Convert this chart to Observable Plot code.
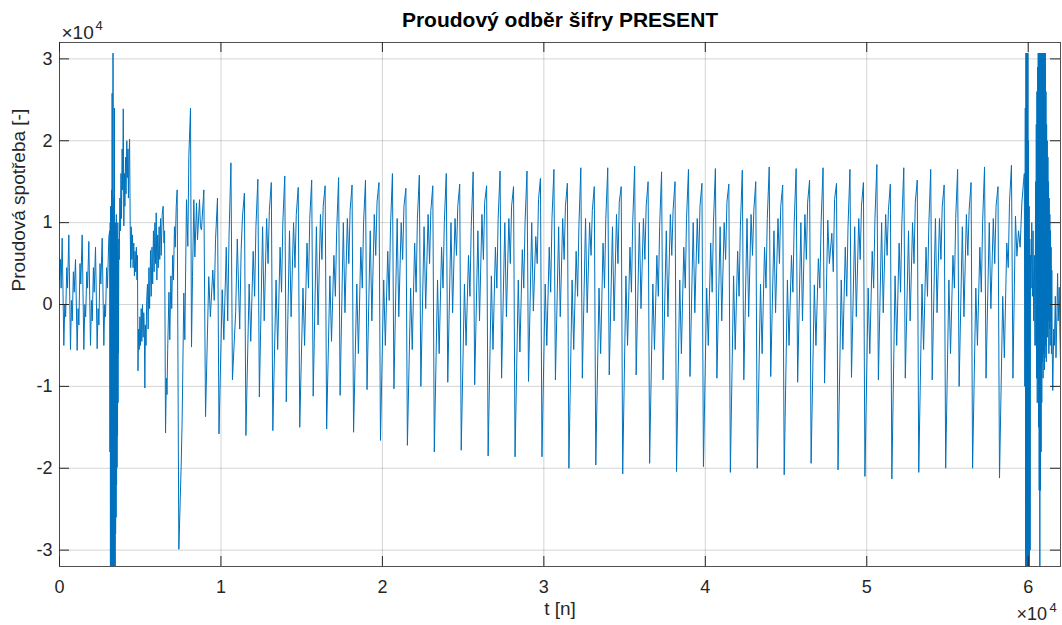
<!DOCTYPE html>
<html>
<head>
<meta charset="utf-8">
<script src="https://cdn.jsdelivr.net/npm/d3@7"></script>
<script src="https://cdn.jsdelivr.net/npm/@observablehq/plot@0.6"></script>
<style>
  html, body { margin: 0; padding: 0; background: #fff; }
  #chart svg { display: block; }
</style>
</head>
<body>
<div id="chart"></div>
<script>
// ---- Text ----
const titleText = "Proudový odběr šifry PRESENT";
const xLabel = "t [n]";
const yLabel = "Proudová spotřeba [-]";
const expBase = "×10";
const expPower = "4";

// ---- Ticks (t in samples, current in units of 1e4) ----
const xTicks = [0, 10000, 20000, 30000, 40000, 50000, 60000];
const yTicks = [-3, -2, -1, 0, 1, 2, 3];

// ---- Signal: values (current in units of 1e4) ----
// idle phase before the cipher starts: [t, value]
const onsetSegment = [
  [0,0.30],[60,0.55],[100,0.20],[165,0.81],[268,-0.50],[330,0.00],[380,-0.15],[450,0.45],[500,0.20],
  [578,0.85],[681,-0.55],[740,0.05],[790,-0.20],[860,0.40],[910,0.15],[991,0.55],[1094,-0.56],
  [1150,-0.05],[1200,-0.25],[1270,0.50],[1320,0.25],[1404,0.85],[1507,-0.55],[1570,0.00],[1620,-0.15],
  [1690,0.40],[1740,0.20],[1817,0.77],[1920,-0.50],[1980,0.05],[2030,-0.20],[2100,0.45],[2150,0.15],
  [2230,0.70],[2333,-0.54],[2390,-0.05],[2440,-0.25],[2510,0.50],[2560,0.25],[2643,0.81],[2746,-0.50],
  [2800,0.00],[2850,-0.15],[2920,0.45],[2970,0.20],[3056,0.83]
];

// start-up burst and key loading: [t, value]
const transientSegment = [
  [3110,0.9],[3125,-1.8],[3140,1.0],[3155,-3.3],[3170,1.2],[3185,-3.3],[3200,1.1],[3215,-3.3],[3230,1.4],
  [3245,-3.3],[3260,2.58],[3275,-3.3],[3290,1.2],[3305,-3.3],[3315,3.07],[3330,-3.3],[3345,1.0],[3360,-3.3],
  [3375,1.3],[3390,-3.3],[3400,2.4],[3415,-3.3],[3430,0.9],[3445,-3.3],[3460,1.0],[3475,-2.8],[3490,0.8],
  [3505,-2.6],[3520,1.1],[3535,-2.2],[3550,0.9],[3565,-1.99],[3580,0.7],[3595,-1.6],[3610,1.0],[3625,-1.2],
  [3640,0.6],[3655,-0.6],[3675,0.8],
  [3700,0.55],[3740,1.3],[3770,0.9],[3810,1.6],[3840,1.05],[3880,1.9],[3910,1.4],[3950,2.39],[3985,0.96],
  [4020,1.6],[4050,1.2],[4090,1.8],[4120,1.35],[4170,2.0],[4200,1.55],[4240,1.9],[4270,1.3],[4300,1.75],
  [4340,2.02],[4380,0.95],[4410,0.45],
  [4440,0.95],[4480,0.55],[4520,0.85],[4560,0.45],[4600,0.75],[4640,0.35],[4680,0.65],[4720,0.4],[4760,0.7],
  [4800,0.3],[4830,0.6],[4860,-0.81],
  [4900,-0.3],[4940,-0.55],[4980,-0.15],[5020,-0.5],[5060,-0.05],[5100,-0.45],[5140,0.0],[5180,-0.4],
  [5220,-0.1],[5255,-0.3],[5286,-1.02],[5320,-0.25],[5360,-0.5],[5400,0.05],
  [5450,0.25],[5490,-0.3],[5540,0.45],[5580,-0.05],[5640,0.66],[5680,0.1],[5730,0.7],[5770,0.25],[5820,0.9],
  [5860,0.4],[5910,1.0],[5950,0.5],[5990,1.12],[6030,0.3],[6080,0.85],[6120,0.45],[6170,0.95],[6210,0.55],
  [6260,1.05],[6300,0.6],[6360,1.1],[6420,1.2],[6470,0.75],[6510,0.9],
  [6567,-1.57],[6620,-0.9],[6660,-1.1],[6700,-0.55],[6780,0.15],[6830,-0.43],[6900,0.35],[6950,-0.05],
  [7010,0.6],[7060,0.3],[7120,0.95],[7170,0.7],[7230,1.2],[7288,1.40],
  [7391,-2.99],[7535,-1.98],[7597,-1.41],[7700,0.14],[7762,-0.43],[7866,1.28],[7949,0.71],[8011,1.81],
  [8114,2.40],[8176,-0.52],[8238,0.34],[8321,1.28],[8383,0.58],[8486,1.24],[8548,0.79],[8672,1.28],
  [8730,0.95],[8795,0.91],[8940,1.40]
];

// round cycles: time of each cycle's minimum (samples)
const cycleMinT = [
  9045, 9879, 10712, 11546, 12379, 13213, 14046, 14880, 15713, 16547,
  17380, 18214, 19047, 19881, 20714, 21548, 22381, 23215, 24048, 24882,
  25715, 26549, 27382, 28216, 29049, 29883, 30716, 31550, 32383, 33217,
  34050, 34884, 35717, 36551, 37384, 38218, 39051, 39885, 40718, 41552,
  42385, 43219, 44052, 44886, 45719, 46553, 47386, 48220, 49053, 49887,
  50720, 51554, 52387, 53221, 54054, 54888, 55721, 56555, 57388, 58222
];
// sample offsets of the vertices inside a cycle
const cycleOffsets = [0, 200, 300, 450, 540, 620, 740];
// per cycle: [minimum, rise, dip, rise, dip, rise, peak before the next drop]
const cycleRows = [
  [-1.37,0.34,-0.15,0.42,0.05,0.79,1.30],
  [-1.58,0.18,-0.43,0.70,-0.20,0.83,1.73],
  [-0.92,-0.09,0.80,-0.30,0.67,1.07,1.36],
  [-1.60,0.25,-0.45,0.65,0.10,0.95,1.53],
  [-1.13,0.95,-0.20,1.05,0.50,1.15,1.49],
  [-1.54,0.30,-0.55,0.70,0.15,1.00,1.57],
  [-1.19,0.90,-0.15,1.00,0.45,1.10,1.43],
  [-1.50,0.20,-0.50,0.75,0.20,1.05,1.52],
  [-1.12,0.95,-0.25,1.10,0.55,1.20,1.45],
  [-1.52,0.35,-0.45,0.60,0.10,0.90,1.55],
  [-1.11,1.00,-0.10,1.05,0.50,1.15,1.46],
  [-1.56,0.25,-0.60,0.70,0.20,1.00,1.52],
  [-1.04,0.90,-0.20,1.10,0.60,1.25,1.49],
  [-1.66,0.30,-0.50,0.65,0.05,0.95,1.60],
  [-1.03,1.05,-0.15,1.00,0.55,1.20,1.42],
  [-1.72,0.20,-0.55,0.75,0.15,1.05,1.58],
  [-1.00,0.95,-0.05,1.10,0.50,1.15,1.45],
  [-1.80,0.30,-0.60,0.70,0.20,1.00,1.60],
  [-0.95,1.00,-0.10,1.05,0.60,1.20,1.47],
  [-1.78,0.25,-0.50,0.60,0.10,0.95,1.62],
  [-0.98,0.90,-0.20,1.10,0.55,1.25,1.45],
  [-1.85,0.35,-0.55,0.70,0.20,1.05,1.63],
  [-0.90,1.00,-0.15,1.05,0.50,1.20,1.44],
  [-1.86,0.30,-0.58,0.67,0.20,1.00,1.63],
  [-0.94,1.00,-0.08,0.83,0.50,1.28,1.54],
  [-1.86,0.25,-0.50,0.70,0.15,1.05,1.65],
  [-0.92,0.95,-0.15,1.05,0.55,1.20,1.48],
  [-2.00,0.30,-0.55,0.65,0.10,0.95,1.67],
  [-0.90,1.05,-0.10,1.00,0.60,1.15,1.44],
  [-1.96,0.20,-0.60,0.75,0.20,1.05,1.67],
  [-0.86,0.95,-0.20,1.10,0.50,1.25,1.44],
  [-2.07,0.35,-0.50,0.70,0.15,1.00,1.69],
  [-0.86,1.00,-0.05,1.05,0.55,1.20,1.50],
  [-1.94,0.25,-0.55,0.60,0.10,0.95,1.62],
  [-0.92,0.90,-0.15,1.10,0.60,1.15,1.50],
  [-2.04,0.30,-0.60,0.70,0.20,1.05,1.65],
  [-0.88,1.00,-0.10,1.05,0.50,1.20,1.48],
  [-1.98,0.20,-0.50,0.75,0.15,1.00,1.66],
  [-0.90,0.95,-0.20,1.00,0.55,1.25,1.47],
  [-2.05,0.35,-0.55,0.65,0.10,0.95,1.64],
  [-0.92,1.05,-0.15,1.10,0.60,1.15,1.50],
  [-2.00,0.25,-0.60,0.70,0.20,1.05,1.68],
  [-0.88,0.90,-0.10,1.05,0.50,1.20,1.46],
  [-2.08,0.30,-0.50,0.60,0.15,1.00,1.66],
  [-0.95,1.00,-0.20,1.10,0.55,1.25,1.52],
  [-1.94,0.24,-0.50,0.56,0.20,1.00,1.67],
  [-0.96,1.03,0.50,0.87,0.40,1.28,1.48],
  [-2.02,0.30,-0.55,0.70,0.10,0.95,1.65],
  [-0.89,0.95,-0.15,1.05,0.55,1.20,1.49],
  [-2.10,0.20,-0.60,0.65,0.20,1.05,1.71],
  [-0.92,1.00,-0.10,1.10,0.60,1.15,1.47],
  [-2.13,0.35,-0.50,0.75,0.15,1.00,1.67],
  [-0.90,0.90,-0.20,1.00,0.50,1.25,1.52],
  [-2.05,0.25,-0.55,0.70,0.10,0.95,1.65],
  [-0.92,1.05,-0.10,1.05,0.55,1.20,1.46],
  [-2.00,0.30,-0.60,0.60,0.20,1.05,1.65],
  [-1.00,0.95,-0.15,1.10,0.60,1.15,1.49],
  [-2.00,0.20,-0.50,0.70,0.15,1.00,1.68],
  [-0.90,1.00,-0.05,1.05,0.50,1.20,1.44],
  [-2.12,0.10,-0.65,0.75,0.45,1.25,1.70]
];

// end of encryption and final burst: [t, value]
const finaleSegment = [
  [59055,-0.90],[59210,1.08],[59300,0.59],[59400,0.90],[59500,0.70],[59610,1.25],[59710,1.50],
  [59760,1.6],[59790,-1.0],[59820,2.4],[59840,-3.3],[59860,3.07],[59880,-3.3],[59900,3.07],[59920,-3.3],
  [59940,3.07],[59960,-3.3],[59980,3.07],[60000,-3.3],[60020,2.0],[60040,-3.3],[60060,1.2],[60080,-3.3],
  [60100,0.8],[60120,-3.0],[60140,0.6],
  [60180,0.2],[60220,1.0],[60260,0.1],[60300,0.9],[60340,-0.2],[60380,0.6],[60420,-0.5]
];
// saturated block: upper and lower turning points of the oscillation
const blockTop = [
  [60460,1.5],[60500,2.2],[60540,2.6],[60580,2.9],[60620,3.07],[60660,3.07],[60700,3.07],[60740,3.07],
  [60780,3.07],[60820,3.07],[60860,3.07],[60900,3.07],[60940,3.07],[60980,3.07],[61020,3.07],[61060,3.07],
  [61100,2.6],[61140,2.2],[61180,2.0],[61220,1.8],[61260,1.5],[61300,1.3],[61340,1.1],[61380,0.9],
  [61420,0.7],[61460,0.42]
];
const blockBottom = [
  [60480,-0.5],[60520,-0.9],[60560,-1.2],[60600,-0.9],[60640,-1.5],[60680,-2.27],[60720,-3.3],[60760,-2.27],
  [60800,-1.8],[60840,-1.2],[60880,-0.7],[60920,-0.9],[60960,-0.6],[61000,-0.8],[61040,-0.65],[61080,-0.5],
  [61120,-0.7],[61160,-0.3],[61200,-0.4],[61240,-0.2],[61280,-0.6],[61320,-0.3],[61360,-0.5],[61400,-0.2],
  [61440,-0.6],[61480,-0.4]
];
const tailSegment = [
  [61520,-1.05],[61580,-0.3],[61620,-0.5],[61680,0.1],[61720,-0.65],[61780,-0.1],[61820,0.38],
  [61860,-0.2],[61920,0.21],[61960,-0.3],[62000,-0.7]
];

// ---- Assemble the table ----
const series = [];
const addPairs = pairs => pairs.forEach(([t, v]) => series.push({t, v}));
addPairs(onsetSegment);
addPairs(transientSegment);
cycleRows.forEach((row, k) => row.forEach((v, j) => series.push({t: cycleMinT[k] + cycleOffsets[j], v})));
addPairs(finaleSegment);
addPairs(blockTop);
addPairs(blockBottom);
addPairs(tailSegment);
series.sort((a, b) => a.t - b.t);

// ---- Styling ----
const font = "'Liberation Sans', Arial, Helvetica, sans-serif";
const ink = "#262626";
const lineColor = "#0072BD";
const fmtX = d => String(d / 1e4);
const fmtY = d => (d < 0 ? "-" : "") + Math.abs(d);

const W = 1062, H = 625, mT = 42, mR = 2, mB = 59, mL = 59;
const frameW = W - mL - mR, frameH = H - mT - mB;
const tickLen = 10;

const chart = Plot.plot({
  width: W, height: H,
  marginTop: mT, marginRight: mR, marginBottom: mB, marginLeft: mL,
  style: {fontFamily: font, fontSize: "18px", color: ink, background: "#fff", overflow: "visible"},
  x: {domain: [0, 62000]},
  y: {domain: [-3.2, 3.2]},
  marks: [
    Plot.gridX(xTicks, {stroke: ink, strokeOpacity: 0.2, strokeWidth: 1}),
    Plot.gridY(yTicks, {stroke: ink, strokeOpacity: 0.2, strokeWidth: 1}),
    Plot.line(series, {x: "t", y: "v", stroke: lineColor, strokeWidth: 1, clip: true}),
    // inward ticks on all four sides
    Plot.ruleX(xTicks, {x: d => d, insetTop: frameH - tickLen, stroke: ink}),
    Plot.ruleX(xTicks, {x: d => d, insetBottom: frameH - tickLen, stroke: ink}),
    Plot.ruleY(yTicks, {y: d => d, insetRight: frameW - tickLen, stroke: ink}),
    Plot.ruleY(yTicks, {y: d => d, insetLeft: frameW - tickLen, stroke: ink}),
    Plot.frame({stroke: ink, strokeOpacity: 0.8}),
    Plot.axisX(xTicks, {anchor: "bottom", tickSize: 0, tickPadding: 14, tickFormat: fmtX, label: null, fill: ink, fontSize: 18}),
    Plot.axisY(yTicks, {anchor: "left", tickSize: 0, tickPadding: 7, tickFormat: fmtY, label: null, fill: ink, fontSize: 18}),
    Plot.text([titleText], {frameAnchor: "top", lineAnchor: "middle", dy: -22, fontWeight: "bold", fontSize: 21, fill: "#000"}),
    Plot.text([xLabel], {frameAnchor: "bottom", lineAnchor: "middle", dy: 42, fontSize: 19, fill: ink}),
    Plot.text([yLabel], {frameAnchor: "left", lineAnchor: "middle", dx: -41, dy: -13, rotate: -90, fontSize: 19, fill: ink}),
    Plot.text([expBase], {frameAnchor: "top-left", lineAnchor: "middle", textAnchor: "start", dx: 2, dy: -10, fontSize: 19, fill: ink}),
    Plot.text([expPower], {frameAnchor: "top-left", lineAnchor: "middle", textAnchor: "start", dx: 36, dy: -17, fontSize: 13, fill: ink}),
    Plot.text([expBase], {frameAnchor: "bottom-right", lineAnchor: "middle", textAnchor: "start", dx: -44, dy: 48, fontSize: 18, fill: ink}),
    Plot.text([expPower], {frameAnchor: "bottom-right", lineAnchor: "middle", textAnchor: "start", dx: -11, dy: 41, fontSize: 13, fill: ink})
  ]
});
document.getElementById("chart").appendChild(chart);
</script>
</body>
</html>
